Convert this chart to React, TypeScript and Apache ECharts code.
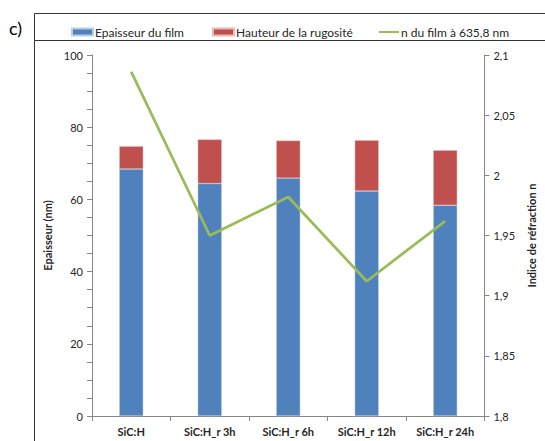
import React, { useEffect, useRef } from "react";
import * as echarts from "echarts";

const categories = ["SiC:H", "SiC:H_r 3h", "SiC:H_r 6h", "SiC:H_r 12h", "SiC:H_r 24h"];
const filmThickness = [68.4, 64.4, 65.9, 62.3, 58.4];
const roughnessHeight = [6.3, 12.2, 10.4, 14.1, 15.2];
const refractiveIndex = [2.086, 1.95, 1.982, 1.912, 1.962];
const seriesNames = ["Epaisseur du film", "Hauteur de la rugosité", "n du film à 635,8 nm"];

const FONT = "Lato";
const TXT = "#262626";
const AXIS = "#868686";

export default function App() {
  const ref = useRef<HTMLDivElement>(null);
  useEffect(() => {
    document.body.style.margin = "0";
    const chart = echarts.init(ref.current!, null, { renderer: "svg" });
    const fmtRight = (v: number) => String(parseFloat(v.toFixed(2))).replace(".", ",");
    chart.setOption({
      animation: false,
      textStyle: { fontFamily: FONT },
      grid: { left: 92, right: 59, top: 55, bottom: 25 },
      legend: [
        {
          data: [{ name: seriesNames[0], icon: "rect" }],
          left: 66, top: 21, itemWidth: 21, itemHeight: 7,
          textStyle: { fontFamily: FONT, fontSize: 12, color: TXT, padding: [0, 0, 0, -3] },
        },
        {
          data: [{ name: seriesNames[1], icon: "rect" }],
          left: 207, top: 21, itemWidth: 21, itemHeight: 7,
          textStyle: { fontFamily: FONT, fontSize: 12, color: TXT, padding: [0, 0, 0, -3] },
        },
        {
          data: [{ name: seriesNames[2], icon: "rect" }],
          left: 374, top: 21, itemWidth: 20, itemHeight: 2,
          textStyle: { fontFamily: FONT, fontSize: 12, color: TXT, padding: [0, 0, 0, -3] },
        },
      ],
      xAxis: {
        type: "category",
        data: categories,
        axisLine: { show: true, lineStyle: { color: AXIS, width: 1 } },
        axisTick: { show: true, alignWithLabel: false, length: 5, lineStyle: { color: AXIS } },
        axisLabel: { fontFamily: FONT, fontSize: 11, fontWeight: "bold", color: TXT, margin: 10 },
      },
      yAxis: [
        {
          type: "value",
          min: 0, max: 100, interval: 20,
          name: "Epaisseur (nm)",
          nameLocation: "middle",
          nameGap: 37,
          nameRotate: 90,
          nameTextStyle: { fontFamily: FONT, fontSize: 11, fontWeight: "bold", color: TXT },
          axisLine: { show: true, lineStyle: { color: AXIS, width: 1 } },
          axisTick: { show: true, length: 5, lineStyle: { color: AXIS } },
          minorTick: { show: true, splitNumber: 4, length: 5, lineStyle: { color: AXIS, width: 1 } },
          splitLine: { show: false },
          minorSplitLine: { show: false },
          axisLabel: { fontFamily: FONT, fontSize: 11, color: TXT, margin: 9 },
        },
        {
          type: "value",
          min: 1.8, max: 2.1, interval: 0.05,
          name: "Indice de réfraction n",
          nameLocation: "middle",
          nameGap: 36,
          nameRotate: 90,
          nameTextStyle: { fontFamily: FONT, fontSize: 11, fontWeight: "bold", color: TXT },
          axisLine: { show: true, lineStyle: { color: AXIS, width: 1 } },
          axisTick: { show: true, length: 5, lineStyle: { color: AXIS } },
          splitLine: { show: false },
          axisLabel: { fontFamily: FONT, fontSize: 11, color: TXT, margin: 9, formatter: fmtRight },
        },
      ],
      series: [
        {
          name: seriesNames[0],
          type: "bar",
          stack: "total",
          data: filmThickness,
          barWidth: 24,
          itemStyle: { color: "#4F81BD", borderColor: "#B9CDE5", borderWidth: 0.5 },
        },
        {
          name: seriesNames[1],
          type: "bar",
          stack: "total",
          data: roughnessHeight,
          barWidth: 24,
          itemStyle: { color: "#C0504D", borderColor: "#E6B9B8", borderWidth: 0.5 },
        },
        {
          name: seriesNames[2],
          type: "line",
          yAxisIndex: 1,
          data: refractiveIndex,
          showSymbol: false,
          symbol: "none",
          lineStyle: { color: "#9BBB59", width: 2.75 },
          itemStyle: { color: "#9BBB59" },
        },
      ],
      graphic: [
        {
          type: "rect",
          shape: { x: 34.5, y: 13.5, width: 520, height: 27 },
          style: { fill: "none", stroke: "#333", lineWidth: 1 },
        },
        {
          type: "line",
          shape: { x1: 34.5, y1: 40.5, x2: 34.5, y2: 445 },
          style: { stroke: "#333", lineWidth: 1 },
        },
        {
          type: "text",
          x: 9, y: 19,
          style: { text: "c)", fontFamily: FONT, fontSize: 18, fill: "#000" },
        },
      ],
    });
    return () => chart.dispose();
  }, []);
  return <div ref={ref} style={{ width: 545, height: 441 }} />;
}
